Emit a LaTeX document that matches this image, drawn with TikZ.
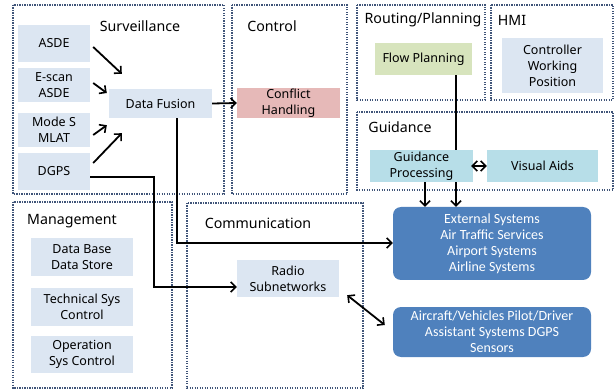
\documentclass[tikz,border=0pt]{standalone}
\usepackage{fontspec}
\setmainfont{Noto Sans}
\newfontfamily\boxfont{Carlito}
\usetikzlibrary{arrows.meta,calc}
\definecolor{grpline}{HTML}{3F5478}
\definecolor{lightbox}{HTML}{DCE6F2}
\definecolor{pinkbox}{HTML}{E6B9B8}
\definecolor{greenbox}{HTML}{D7E4BD}
\definecolor{cyanbox}{HTML}{B7DEE8}
\definecolor{bluebox}{HTML}{4F81BD}
\tikzset{
  grp/.style={draw=grpline, line width=1.5pt, dash pattern=on 1.4pt off 1.1pt},
  grptitle/.style={font=\fontsize{14.2}{16}\selectfont, inner sep=0pt},
  unit/.style={fill=#1, align=center, inner sep=0pt,
    font=\fontsize{12.5}{16}\selectfont},
  unit/.default=lightbox,
  ext/.style={fill=bluebox, rounded corners=8pt, align=center, inner sep=0pt,
    text=white, font=\boxfont\fontsize{14}{16}\selectfont},
  barbtip/.tip={Straight Barb[length=5pt,width=10pt,line width=1.6pt]},
  flow/.style={line width=1.8pt, -{barbtip}},
  bflow/.style={line width=1.8pt, {barbtip}-{barbtip}},
  plain/.style={line width=1.8pt}
}
\begin{document}
\begin{tikzpicture}[x=1pt,y=-1pt]
\useasboundingbox (0,0) rectangle (616,390);

% group frames
\draw[grp] (13,5) rectangle (224,194);
\draw[grp] (232,5) rectangle (347,194);
\draw[grp] (357,5) rectangle (485,100);
\draw[grp] (491,5) rectangle (613,100);
\draw[grp] (357,112) rectangle (613,190);
\draw[grp] (13,202) rectangle (172,388);
\draw[grp] (187,203) rectangle (363,388);

% group titles
\node[grptitle] (tSurv) at (140,26) {Surveillance};
\node[grptitle] (tCtrl) at (272,26) {Control};
\node[grptitle] (tRout) at (423,20) {Routing/Planning};
\node[grptitle] (tHmi) at (512,20) {HMI};
\node[grptitle] (tGuid) at (400,127) {Guidance};
\node[grptitle] (tMgmt) at (72,221) {Management};
\node[grptitle] (tComm) at (258,223) {Communication};

% surveillance
\node[unit, minimum width=72pt, minimum height=37pt] (asde) at (54,43.5) {ASDE};
\node[unit, minimum width=72pt, minimum height=34pt] (escan) at (54,85.5) {E-scan\\ASDE};
\node[unit, minimum width=72pt, minimum height=34pt] (modes) at (54,130) {Mode S\\MLAT};
\node[unit, minimum width=72pt, minimum height=37pt] (dgps) at (54,171.5) {DGPS};
\node[unit, minimum width=103pt, minimum height=29pt] (fusion) at (160.5,103.5) {Data Fusion};

% control
\node[unit=pinkbox, minimum width=103pt, minimum height=30pt] (conflict) at (288.5,103) {Conflict\\Handling};

% routing / HMI
\node[unit=greenbox, minimum width=97pt, minimum height=32pt] (flowplan) at (423.5,59) {Flow Planning};
\node[unit, minimum width=101pt, minimum height=55pt] (cwp) at (552.5,65.5) {Controller\\Working\\Position};

% guidance
\node[unit=cyanbox, minimum width=103pt, minimum height=32pt] (gproc) at (421.5,166) {Guidance\\Processing};
\node[unit=cyanbox, minimum width=111pt, minimum height=32pt] (visual) at (542.5,166) {Visual Aids};

% management
\node[unit, minimum width=102pt, minimum height=38pt] (dbase) at (82,257) {Data Base\\Data Store};
\node[unit, minimum width=102pt, minimum height=38pt] (techsys) at (82,307) {Technical Sys\\Control};
\node[unit, minimum width=102pt, minimum height=37pt] (opsys) at (82,354.5) {Operation\\Sys Control};

% communication
\node[unit, minimum width=102pt, minimum height=37pt] (radio) at (288,278.5) {Radio\\Subnetworks};

% external systems
\node[ext, minimum width=198pt, minimum height=73pt] (extsys) at (492,243.5)
  {External Systems\\Air Traffic Services\\Airport Systems\\Airline Systems};
\node[ext, minimum width=198pt, minimum height=50pt] (aircraft) at (492,332)
  {Aircraft/Vehicles Pilot/Driver\\Assistant Systems DGPS\\Sensors};

% sensor inputs to data fusion
\draw[flow] ($(asde.east)+(3,3.5)$) -- ($(fusion.north west)+(13,-15)$);
\draw[flow] ($(escan.east)+(3,-2.5)$) -- ($(fusion.west)+(-2,-10.5)$);
\draw[flow] ($(modes.east)+(3,5)$) -- ($(fusion.south west)+(-2,7)$);
\draw[flow] ($(dgps.east)+(3,-8.5)$) -- ($(fusion.south west)+(13,15)$);

% data fusion to control and external systems
\draw[flow] (fusion.east) -- (conflict.west);
\draw[flow] (fusion.south -| 177,0) -- (177,243) -- (extsys.west |- 0,243);

% DGPS to radio subnetworks
\draw[flow] ([yshift=-5.5pt]dgps.east) -- (154,177) -- (154,287) -- (radio.west |- 0,287);

% radio to aircraft
\draw[bflow] ($(radio.south east)+(8,-2)$) -- ($(aircraft.west)+(-8,-7)$);

% planning / guidance to external systems
\draw[plain] (flowplan.south -| 456,0) -- (gproc.north -| 456,0);
\draw[flow] (gproc.south -| 456,0) -- (extsys.north -| 456,0);
\draw[flow] (gproc.south -| 425,0) -- (extsys.north -| 425,0);
\draw[bflow] ([xshift=-2pt]gproc.east) -- (visual.west);
\end{tikzpicture}
\end{document}
